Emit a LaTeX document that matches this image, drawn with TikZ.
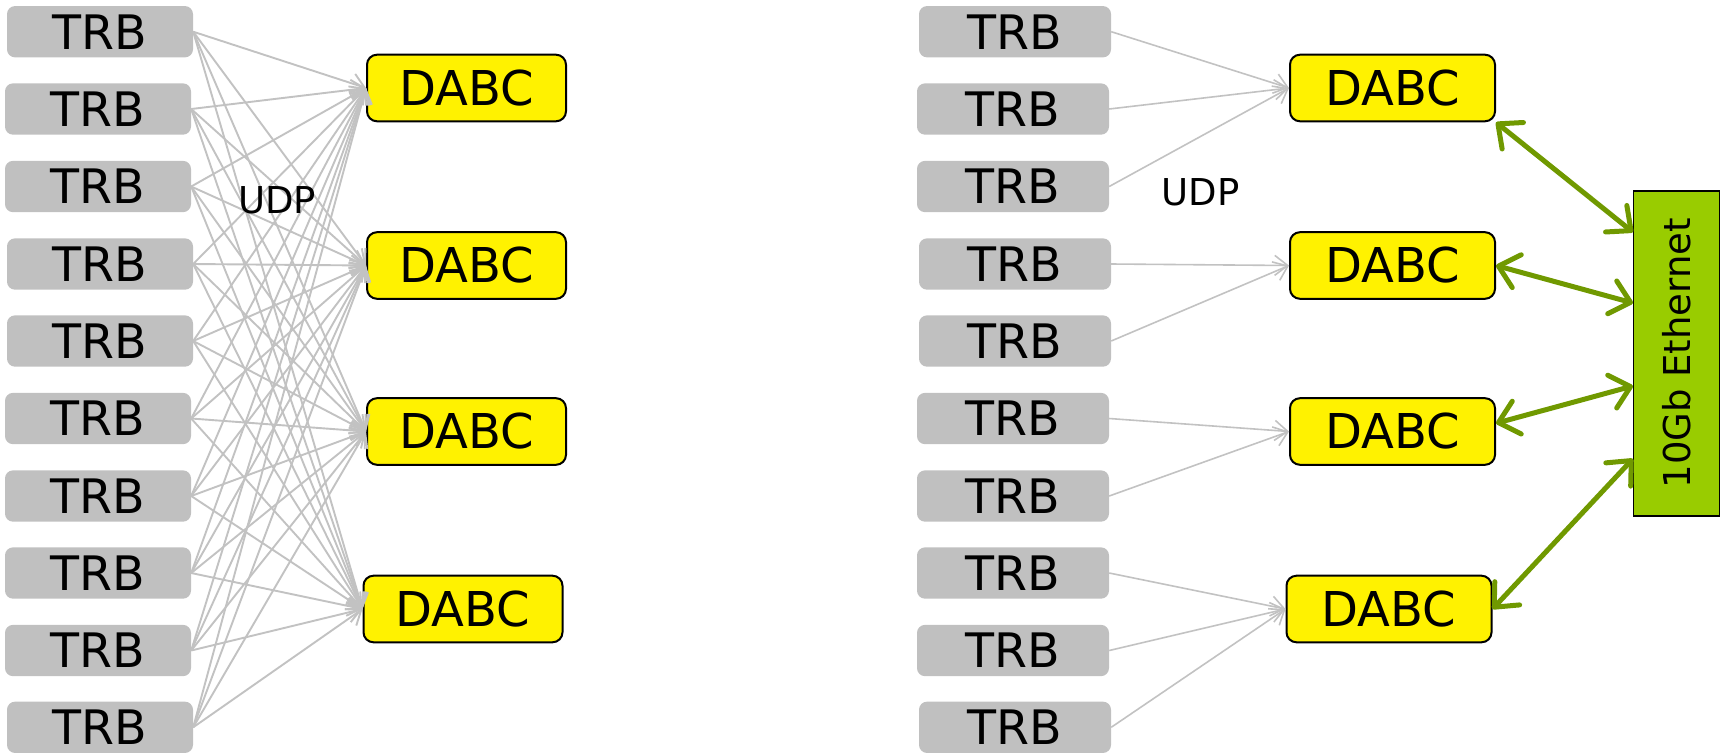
\documentclass[tikz,border=0pt]{standalone}
\usepackage{fontspec}
\setmainfont{DejaVu Sans}
\usetikzlibrary{arrows.meta,calc}
\definecolor{trbgray}{RGB}{192,192,192}
\definecolor{linkgray}{RGB}{194,194,194}
\definecolor{ethgreen}{RGB}{153,204,0}
\definecolor{linkgreen}{RGB}{112,153,0}
\begin{document}
\begin{tikzpicture}[x=1pt,y=-1pt,
  trbbox/.style={fill=trbgray,rounded corners=8pt,inner sep=0pt,minimum height=51.3pt,
    font=\fontsize{47.5}{56}\selectfont},
  dabcbox/.style={fill=yellow,draw=black,line width=2pt,rounded corners=10pt,inner sep=0pt,
    minimum height=66.6pt,font=\fontsize{48}{58}\selectfont},
  udplabel/.style={inner sep=0pt,font=\fontsize{37}{44}\selectfont},
  graylink/.style={draw=linkgray,line width=1.9pt,-{Straight Barb[length=13pt,width=20pt]}},
  greenlink/.style={draw=linkgreen,line width=5pt,
    {Straight Barb[round,length=19pt,width=34pt]}-{Straight Barb[round,length=19pt,width=34pt]}}
]
\useasboundingbox (0,0) rectangle (1723,753);
% left group
\foreach \i/\x/\y in {1/100/31.7,2/98/109,3/98/186.5,4/100/264,5/100/341,6/98/418.5,7/98/496,8/98/573,9/98/650.5,10/100/727.3}
  \node[trbbox,minimum width=186pt] (lt\i) at (\x,\y) {TRB};
\node[dabcbox,minimum width=199pt] (ld1) at (466.5,88) {DABC};
\node[dabcbox,minimum width=199pt] (ld2) at (466.5,265.5) {DABC};
\node[dabcbox,minimum width=199pt] (ld3) at (466.5,431.5) {DABC};
\node[dabcbox,minimum width=199pt] (ld4) at (463,609) {DABC};
\foreach \i in {1,...,10}
  \foreach \j in {1,...,4}
    \draw[graylink] (lt\i.east) -- (ld\j.west);
\node[udplabel] (udpL) at (277,200) {UDP};
% right group
\foreach \i/\x/\y in {1/1015/31.7,2/1013/109,3/1013/186.5,4/1015/264,5/1015/341,6/1013/418.5,7/1013/496,8/1013/573,9/1013/650.5,10/1015/727.3}
  \node[trbbox,minimum width=192pt] (rt\i) at (\x,\y) {TRB};
\node[dabcbox,minimum width=205pt] (rd1) at (1392.5,88) {DABC};
\node[dabcbox,minimum width=205pt] (rd2) at (1392.5,265.5) {DABC};
\node[dabcbox,minimum width=205pt] (rd3) at (1392.5,431.5) {DABC};
\node[dabcbox,minimum width=205pt] (rd4) at (1389,609) {DABC};
\node[udplabel] (udpR) at (1200.5,192) {UDP};
\foreach \i/\j in {1/1,2/1,3/1,4/2,5/2,6/3,7/3,8/4,9/4,10/4}
  \draw[graylink,line width=1.6pt] (rt\i.east) -- (rd\j.west);
% ethernet
\node[fill=ethgreen,draw=black,line width=1.5pt,minimum width=86pt,minimum height=325pt,inner sep=0pt,
  font=\fontsize{37}{44}\selectfont] (eth) at (1676.7,353.3) {\rotatebox{90}{10Gb Ethernet}};
\coordinate (e1) at ($(eth.north west)!0.129!(eth.south west)$);
\coordinate (e2) at ($(eth.north west)!0.346!(eth.south west)$);
\coordinate (e3) at ($(eth.north west)!0.600!(eth.south west)$);
\coordinate (e4) at ($(eth.north west)!0.823!(eth.south west)$);
\coordinate (r3) at ($(rd3.north east)!0.38!(rd3.south east)$);
\draw[greenlink] (rd1.south east) -- (e1);
\draw[greenlink] (rd2.east) -- (e2);
\draw[greenlink] (r3) -- (e3);
\draw[greenlink] (rd4.east) -- (e4);
\end{tikzpicture}
\end{document}
